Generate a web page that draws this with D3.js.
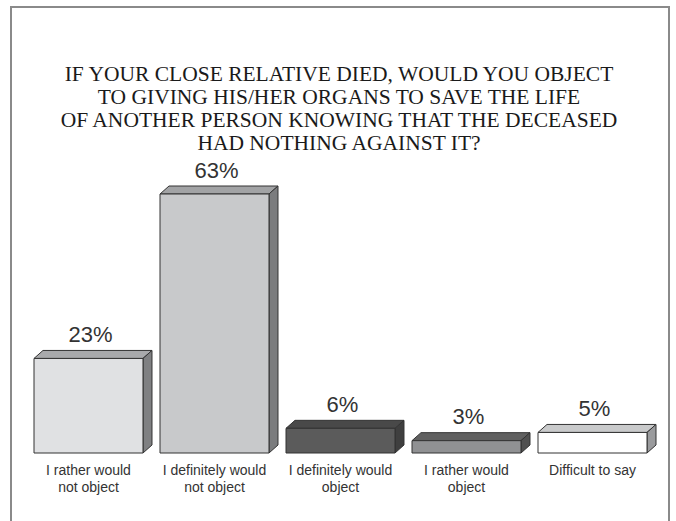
<!DOCTYPE html>
<html><head><meta charset="utf-8">
<script src="https://cdn.jsdelivr.net/npm/d3@7"></script>
<style>body{margin:0;background:#fff}svg{display:block}</style>
</head><body>
<script>
const titleLines = ["IF YOUR CLOSE RELATIVE DIED, WOULD YOU OBJECT","TO GIVING HIS/HER ORGANS TO SAVE THE LIFE","OF ANOTHER PERSON KNOWING THAT THE DECEASED","HAD NOTHING AGAINST IT?"];
const categories = ["I rather would|not object","I definitely would|not object","I definitely would|object","I rather would|object","Difficult to say"];
const values = [23, 63, 6, 3, 5];
const frontColors = ["#e0e1e3","#c8c9cb","#5b5b5b","#909193","#ffffff"];
const topColors = ["#a9aaac","#a2a3a5","#494949","#606060","#c9cacb"];
const sideColors = ["#7f8082","#7b7c7e","#3f3f3f","#505050","#9a9b9d"];

const SERIF = '"Liberation Serif"';
const SANS = '"Liberation Sans"';
const W = 676, H = 521;
const svg = d3.select("body").append("svg").attr("width", W).attr("height", H);

// frame
svg.append("path").attr("d", `M11,${H} L11,7 L669,7 L669,${H}`)
  .attr("fill","none").attr("stroke","#8a8a8a").attr("stroke-width",2);

// title
svg.append("g").selectAll("text").data(titleLines).join("text")
  .attr("x", 339).attr("y", (d,i) => 81 + i*23)
  .attr("text-anchor","middle")
  .style("font-family", SERIF)
  .style("font-size", "21.5px").attr("fill","#1a1a1a")
  .text(d => d);

const x = d3.scaleBand().domain(categories).range([34, 647]).paddingInner(0.135).paddingOuter(0);
const y = d3.scaleLinear().domain([0, 63]).range([453, 194]);
const dx = 9, dy = 8;

const g = svg.append("g");
categories.forEach((c, i) => {
  const x0 = x(c), x1 = x0 + x.bandwidth(), yt = y(values[i]), yb = y(0);
  const bar = g.append("g").attr("stroke","#333").attr("stroke-width",1).attr("stroke-linejoin","round");
  bar.append("path").attr("d", `M${x0},${yt} L${x0+dx},${yt-dy} L${x1+dx},${yt-dy} L${x1},${yt} Z`).attr("fill", topColors[i]);
  bar.append("path").attr("d", `M${x1},${yt} L${x1+dx},${yt-dy} L${x1+dx},${yb-dy} L${x1},${yb} Z`).attr("fill", sideColors[i]);
  bar.append("rect").attr("x", x0).attr("y", yt).attr("width", x1-x0).attr("height", yb-yt).attr("fill", frontColors[i]);
  g.append("text").attr("x", x0 + x.bandwidth()/2 + 2).attr("y", yt - 16.5)
    .attr("text-anchor","middle")
    .style("font-family", SANS)
    .style("font-size", "22px").attr("fill","#333").text(values[i] + "%");
  const lines = c.split("|");
  g.append("text").attr("text-anchor","middle")
    .style("font-family", SANS)
    .style("font-size", "14px").attr("fill","#333")
    .selectAll("tspan").data(lines).join("tspan")
    .attr("x", x0 + x.bandwidth()/2).attr("y", (d,j) => 475 + j*17).text(d => d);
});
</script>
</body></html>
